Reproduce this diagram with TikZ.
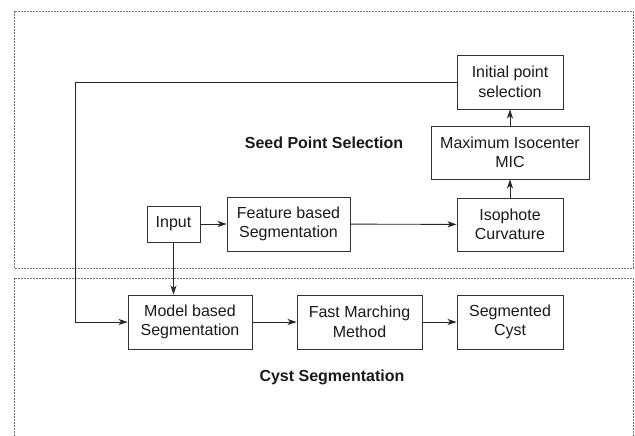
\documentclass[tikz,border=0pt]{standalone}
\usepackage{fontspec}
\setmainfont{Liberation Sans}
\usetikzlibrary{arrows.meta}
\begin{document}
\begin{tikzpicture}[x=1pt,y=-1pt,
  blk/.style={draw=black!80,line width=0.9pt,align=center,inner sep=0pt,
    font=\fontsize{16}{19.5}\selectfont,text=black!90},
  lbl/.style={font=\fontsize{16}{19}\selectfont\bfseries,text=black!90},
  frame/.style={draw=black!55,line width=0.9pt,dash pattern=on 2pt off 1pt},
  conn/.style={draw=black!85,line width=0.9pt,-{Stealth[length=9pt,width=6pt,inset=2.5pt]}},
  plain/.style={draw=black!85,line width=0.9pt}]
\useasboundingbox (0,0) rectangle (635,436);
% group frames
\draw[frame] (14,11) rectangle (633,268);
\draw[frame] (14,442) -- (14,278) -- (633,278) -- (633,442);
% nodes
\node[blk,minimum width=106pt,minimum height=54pt] (init) at (510,82) {Initial point\\selection};
\node[blk,minimum width=158pt,minimum height=53pt] (mic) at (510,152.5) {Maximum Isocenter\\MIC};
\node[blk,minimum width=106pt,minimum height=53pt] (iso) at (510,224.5) {Isophote\\Curvature};
\node[blk,minimum width=53pt,minimum height=36pt] (inp) at (173.5,224) {Input};
\node[blk,minimum width=123pt,minimum height=54pt] (feat) at (288.5,224) {Feature based\\Segmentation};
\node[blk,minimum width=124pt,minimum height=54pt] (model) at (190,322) {Model based\\Segmentation};
\node[blk,minimum width=125pt,minimum height=54pt] (fast) at (359.5,322) {Fast Marching\\Method};
\node[blk,minimum width=106pt,minimum height=54pt] (seg) at (510,322) {Segmented\\Cyst};
\node[lbl] (seedlbl) at (324,143) {Seed Point Selection};
\node[lbl] (cystlbl) at (332,377) {Cyst Segmentation};
% connectors
\coordinate (tl) at (75,82);
\coordinate (bl) at (75,322);
\draw[conn] (inp) -- (feat);
\draw[conn] (feat) -- (iso);
\draw[conn] (iso) -- (mic);
\draw[conn] (mic) -- (init);
\draw[conn] (inp.south) -- (inp.south |- model.north);
\draw[conn] (init.west) -- (tl) -- (bl) -- (model.west);
\draw[conn] (model) -- (fast);
\draw[conn] (fast) -- (seg);
\end{tikzpicture}
\end{document}
